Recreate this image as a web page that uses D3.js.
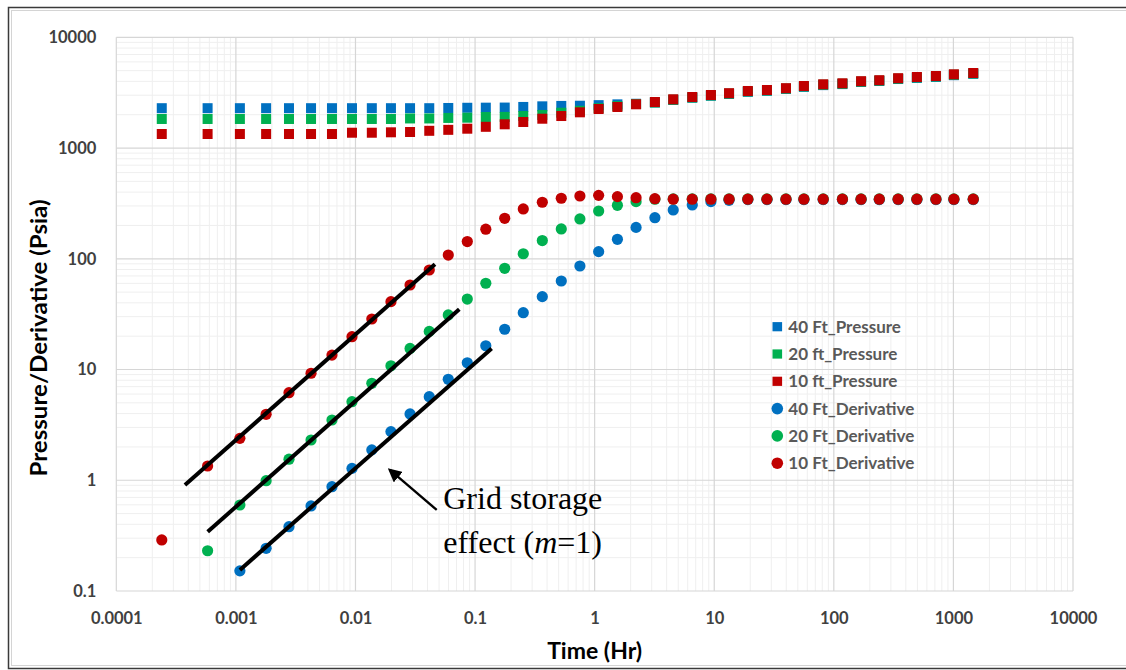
<!DOCTYPE html>
<html>
<head>
<meta charset="utf-8">
<script src="https://cdn.jsdelivr.net/npm/d3@7"></script>
<style>
  body { margin: 0; background: #fff; }
  text { font-family: Lato, "Open Sans", sans-serif; }
  .axis text { font-weight: bold; fill: #404040; font-size: 16.5px; }
  .legend text { font-weight: bold; fill: #595959; font-size: 17px; }
  .title { font-weight: bold; fill: #000; font-size: 22px; }
  .note { font-family: "Liberation Serif", "DejaVu Serif", serif; font-size: 32px; fill: #000; }
</style>
</head>
<body>
<div id="chart"></div>
<script>

// time steps (hr) shared by all series
var times = [0.00024, 0.00058, 0.00108, 0.00179, 0.00278, 0.00425, 0.00636, 0.00935, 0.0137, 0.0198,
             0.0286, 0.0414, 0.0597, 0.0861, 0.123, 0.177, 0.253, 0.365, 0.526, 0.753,
             1.08, 1.55, 2.22, 3.19, 4.54, 6.55, 9.38, 13.3, 19.1, 27.6,
             39.8, 56.2, 81.5, 118, 169, 240, 345, 495, 714, 1009, 1465];

// pressure (psia)
var press40 = [2290, 2290, 2290, 2290, 2290, 2290, 2290, 2290, 2290, 2290,
               2290, 2290, 2300, 2310, 2315, 2320, 2350, 2380, 2400, 2410,
               2440, 2480, 2510, 2580, 2720, 2850, 2970, 3080, 3220, 3290,
               3420, 3570, 3700, 3780, 3950, 4030, 4200, 4300, 4390, 4550, 4680];
var press20 = [1830, 1830, 1830, 1830, 1830, 1830, 1830, 1830, 1830, 1830,
               1850, 1850, 1870, 1880, 1906, 1910, 1946, 1990, 2085, 2170,
               2290, 2390, 2500, 2580, 2730, 2860, 2985, 3100, 3245, 3310,
               3440, 3600, 3730, 3805, 3975, 4060, 4230, 4340, 4430, 4590, 4715];
var press10 = [1339, 1339, 1339, 1339, 1339, 1339, 1339, 1375, 1375, 1387,
               1396, 1431, 1460, 1495, 1555, 1638, 1719, 1840, 1946, 2102,
               2252, 2348, 2483, 2604, 2755, 2890, 3013, 3128, 3275, 3343,
               3471, 3633, 3764, 3843, 4015, 4099, 4273, 4381, 4472, 4634, 4760];

// derivative (psia); 40 ft starts at times[2], 20 ft at times[1], 10 ft at times[0]
var deriv40 = [0.152, 0.243, 0.381, 0.586, 0.875, 1.28, 1.88, 2.75, 3.97, 5.68,
               8.16, 11.5, 16.4, 23.1, 32.6, 45.5, 63.0, 86.1, 116, 150,
               192, 235, 276, 306, 328, 337, 342, 342, 342, 342,
               342, 342, 342, 342, 342, 342, 342, 342, 342];
var deriv20 = [0.231, 0.598, 0.991, 1.55, 2.31, 3.50, 5.12, 7.51, 10.8, 15.5,
               22.1, 31.1, 43.3, 60.1, 82.0, 111, 146, 186, 229, 270,
               304, 328, 345, 347, 347, 347, 347, 347, 347, 347,
               347, 347, 347, 347, 347, 347, 347, 347, 347, 347];
var deriv10 = [0.289, 1.345, 2.39, 3.94, 6.18, 9.25, 13.5, 19.8, 28.6, 41.0,
               58.0, 79.2, 108, 143, 185, 232, 282, 324, 352, 369,
               374, 364, 356, 349, 345, 345, 345, 345, 345, 345,
               345, 345, 345, 345, 345, 345, 345, 345, 345, 345, 345];

// unit-slope lines drawn over the early derivative points: [t0, v0, t1, v1]
var slopeLines = [[0.000375, 0.906, 0.0462, 89.2],
                  [0.000581, 0.343, 0.0738, 35.0],
                  [0.00108, 0.155, 0.1376, 15.5]];

// arrow [tip t, tip v, tail t, tail v] and note anchor
var arrowPts = [0.0194, 1.238, 0.0478, 0.539];
var noteAt = [0.0542, 0.547];

var xTicks = [0.0001, 0.001, 0.01, 0.1, 1, 10, 100, 1000, 10000];
var yTicks = [0.1, 1, 10, 100, 1000, 10000];
var legendNames = ["40 Ft_Pressure", "20 ft_Pressure", "10 ft_Pressure",
                   "40 Ft_Derivative", "20 Ft_Derivative", "10 Ft_Derivative"];

var blue = "#0070C0", green = "#00B050", red = "#C00000";

window.onload = function(){
  drawChart();
};

function drawChart(){
  var width = 1126,
      height = 670,
      plot = {left: 116.3, right: 1073, top: 37.3, bottom: 591};

  var svg = d3.select("#chart").append("svg")
      .attr("width", width)
      .attr("height", height);

  // chart frame
  svg.append("rect")
      .attr("x", 8.5).attr("y", 7.5)
      .attr("width", 1130).attr("height", 661)
      .attr("fill", "#fff")
      .attr("stroke", "#3a3a3a")
      .attr("stroke-width", 1.5);
  svg.append("rect")
      .attr("x", 11.5).attr("y", 10.5)
      .attr("width", 1130).attr("height", 655)
      .attr("fill", "none")
      .attr("stroke", "#d4d4d4")
      .attr("stroke-width", 1);

  var x = d3.scaleLog()
      .domain([0.0001, 10000])
      .range([plot.left, plot.right]);

  var y = d3.scaleLog()
      .domain([0.1, 10000])
      .range([plot.bottom, plot.top]);

  var isMajor = function(d){ return Math.abs(Math.log10(d) - Math.round(Math.log10(d))) < 1e-9; };

  var grid = svg.append("g").attr("class", "grid");

  // minor gridlines first, majors on top
  grid.selectAll(".xminor")
      .data(x.ticks().filter(function(d){ return !isMajor(d); }))
    .enter().append("line")
      .attr("x1", function(d){ return x(d); })
      .attr("x2", function(d){ return x(d); })
      .attr("y1", plot.top).attr("y2", plot.bottom)
      .attr("stroke", "#efefef").attr("stroke-width", 1);

  grid.selectAll(".yminor")
      .data(y.ticks().filter(function(d){ return !isMajor(d); }))
    .enter().append("line")
      .attr("y1", function(d){ return y(d); })
      .attr("y2", function(d){ return y(d); })
      .attr("x1", plot.left).attr("x2", plot.right)
      .attr("stroke", "#efefef").attr("stroke-width", 1);

  grid.selectAll(".xmajor")
      .data(xTicks)
    .enter().append("line")
      .attr("x1", function(d){ return x(d); })
      .attr("x2", function(d){ return x(d); })
      .attr("y1", plot.top).attr("y2", plot.bottom)
      .attr("stroke", "#d6d6d6").attr("stroke-width", 1.2);

  grid.selectAll(".ymajor")
      .data(yTicks)
    .enter().append("line")
      .attr("y1", function(d){ return y(d); })
      .attr("y2", function(d){ return y(d); })
      .attr("x1", plot.left).attr("x2", plot.right)
      .attr("stroke", "#d6d6d6").attr("stroke-width", 1.2);

  var fmt = function(d){ return d >= 1 ? d3.format("d")(d) : String(d); };

  var xAxis = d3.axisBottom(x)
      .tickValues(xTicks)
      .tickFormat(fmt)
      .tickSize(0)
      .tickPadding(21);

  var yAxis = d3.axisLeft(y)
      .tickValues(yTicks)
      .tickFormat(fmt)
      .tickSize(0)
      .tickPadding(20);

  svg.append("g")
      .attr("class", "x axis")
      .attr("transform", "translate(0," + plot.bottom + ")")
      .call(xAxis)
      .call(function(g){ g.select(".domain").remove(); });

  svg.append("g")
      .attr("class", "y axis")
      .attr("transform", "translate(" + plot.left + ",0)")
      .call(yAxis)
      .call(function(g){ g.select(".domain").remove(); });

  svg.selectAll(".axis text").attr("font-family", null);

  // axis titles
  svg.append("text")
      .attr("class", "title")
      .attr("x", (plot.left + plot.right) / 2)
      .attr("y", 659)
      .attr("text-anchor", "middle")
      .attr("textLength", 95)
      .attr("lengthAdjust", "spacingAndGlyphs")
      .text("Time (Hr)");

  svg.append("text")
      .attr("class", "title")
      .attr("transform", "translate(46.7," + 338 + ") rotate(-90)")
      .attr("text-anchor", "middle")
      .attr("textLength", 277)
      .attr("lengthAdjust", "spacingAndGlyphs")
      .text("Pressure/Derivative (Psia)");

  // series, drawn in legend order
  var sq = 10;
  var pressSeries = [[press40, blue], [press20, green], [press10, red]];
  pressSeries.forEach(function(s){
    svg.append("g").selectAll("rect")
        .data(s[0])
      .enter().append("rect")
        .attr("x", function(d, i){ return x(times[i]) - sq / 2; })
        .attr("y", function(d){ return y(d) - sq / 2; })
        .attr("width", sq)
        .attr("height", sq)
        .attr("fill", s[1]);
  });

  var derivSeries = [[deriv40, 2, blue], [deriv20, 1, green], [deriv10, 0, red]];
  derivSeries.forEach(function(s){
    svg.append("g").selectAll("circle")
        .data(s[0])
      .enter().append("circle")
        .attr("cx", function(d, i){ return x(times[i + s[1]]); })
        .attr("cy", function(d){ return y(d); })
        .attr("r", 5.6)
        .attr("fill", s[2]);
  });

  // unit slope lines
  svg.append("g").selectAll("line")
      .data(slopeLines)
    .enter().append("line")
      .attr("x1", function(d){ return x(d[0]); })
      .attr("y1", function(d){ return y(d[1]); })
      .attr("x2", function(d){ return x(d[2]); })
      .attr("y2", function(d){ return y(d[3]); })
      .attr("stroke", "#000")
      .attr("stroke-width", 4);

  // arrow + note
  var defs = svg.append("defs");
  defs.append("marker")
      .attr("id", "arrowhead")
      .attr("viewBox", "0 0 10 10")
      .attr("refX", 8)
      .attr("refY", 5)
      .attr("markerWidth", 6)
      .attr("markerHeight", 6)
      .attr("markerUnits", "strokeWidth")
      .attr("orient", "auto")
    .append("path")
      .attr("d", "M 0 0 L 10 5 L 0 10 z")
      .attr("fill", "#000");

  svg.append("line")
      .attr("x1", x(arrowPts[2]))
      .attr("y1", y(arrowPts[3]))
      .attr("x2", x(arrowPts[0]))
      .attr("y2", y(arrowPts[1]))
      .attr("stroke", "#000")
      .attr("stroke-width", 2.3)
      .attr("marker-end", "url(#arrowhead)");

  var note = svg.append("text")
      .attr("class", "note")
      .attr("x", x(noteAt[0]))
      .attr("y", y(noteAt[1]));
  note.append("tspan").text("Grid storage");
  var l2 = note.append("tspan")
      .attr("x", x(noteAt[0]))
      .attr("dy", 43.4);
  l2.append("tspan").text("effect (");
  l2.append("tspan").attr("font-style", "italic").text("m");
  l2.append("tspan").text("=1)");

  // legend
  var legend = svg.append("g")
      .attr("class", "legend")
      .attr("transform", "translate(777.3,326.7)");

  var row = legend.selectAll("g")
      .data(legendNames)
    .enter().append("g")
      .attr("transform", function(d, i){ return "translate(0," + (i * 27.3) + ")"; });

  var colors = [blue, green, red, blue, green, red];
  row.each(function(d, i){
    var g = d3.select(this);
    if (i < 3) {
      g.append("rect")
          .attr("x", -4.8).attr("y", -4.6)
          .attr("width", 9.6).attr("height", 9.2)
          .attr("fill", colors[i]);
    } else {
      g.append("circle")
          .attr("r", 5.8)
          .attr("fill", colors[i]);
    }
    g.append("text")
        .attr("x", 11)
        .attr("dy", "0.36em")
        .text(d);
  });
};
</script>
</body>
</html>
